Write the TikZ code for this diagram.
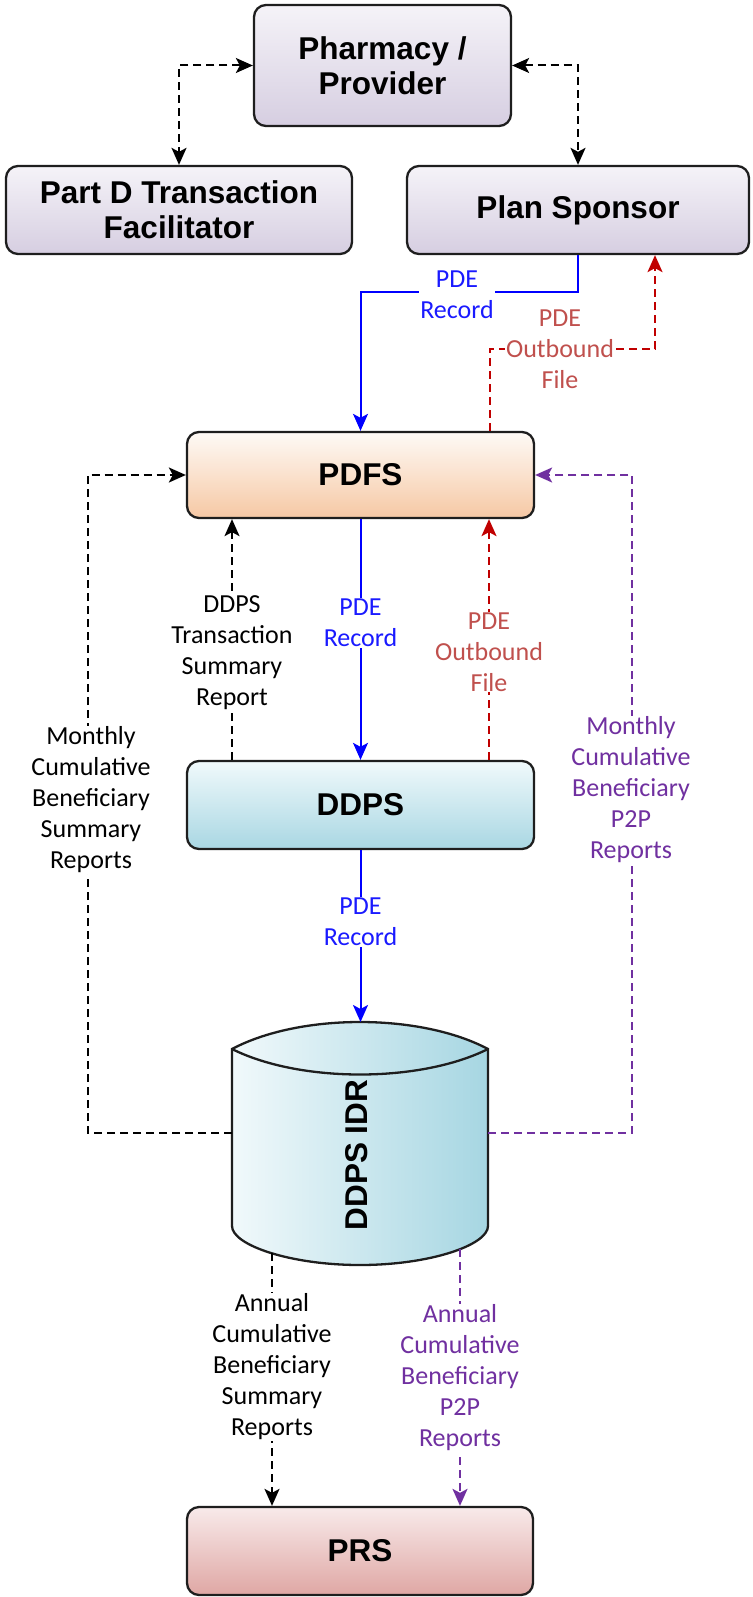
\documentclass[tikz,border=0pt]{standalone}
\usepackage{fontspec}
\setmainfont{Carlito}
\newfontfamily\boxfont{Liberation Sans}
\usetikzlibrary{arrows.meta,calc}

\definecolor{lavTop}{HTML}{F5F3F8}
\definecolor{lavBot}{HTML}{D6CEE1}
\definecolor{peachTop}{HTML}{FEFAF6}
\definecolor{peachBot}{HTML}{F6C8A4}
\definecolor{aquaTop}{HTML}{F0F9FB}
\definecolor{aquaBot}{HTML}{A9D7E3}
\definecolor{roseTop}{HTML}{F8EAEA}
\definecolor{roseBot}{HTML}{DFA7A4}
\definecolor{cylLeft}{HTML}{F1F9FB}
\definecolor{cylRight}{HTML}{A6D6E2}
\definecolor{flowBlue}{HTML}{0000FF}
\definecolor{txtBlue}{HTML}{1A1AFF}
\definecolor{flowRed}{HTML}{C00000}
\definecolor{txtRed}{HTML}{C0504D}
\definecolor{flowPurple}{HTML}{7030A0}
\definecolor{edgeGray}{HTML}{1E1E1E}

\tikzset{
  box/.style={rounded corners=12pt, draw=edgeGray, line width=2.3pt,
    align=center, inner sep=0pt,
    font=\boxfont\bfseries\fontsize{31.5}{35}\selectfont},
  lavbox/.style={box, top color=lavTop, bottom color=lavBot},
  tip/.style={-{Stealth[length=17pt,width=15pt,inset=4pt]}},
  twotip/.style={{Stealth[length=17pt,width=15pt,inset=4pt]}-{Stealth[length=17pt,width=15pt,inset=4pt]}},
  flow/.style={line width=2pt},
  dashflow/.style={flow, dash pattern=on 8pt off 5pt},
  blueflow/.style={flow, draw=flowBlue, tip},
  redflow/.style={dashflow, draw=flowRed, tip},
  blackflow/.style={dashflow, draw=black, tip},
  purpleflow/.style={dashflow, draw=flowPurple, tip},
  lbl/.style={fill=white, inner sep=1pt, align=center,
    font=\fontsize{26}{31}\selectfont},
}

\begin{document}
\begin{tikzpicture}[x=1pt,y=-1pt]
\useasboundingbox (0,0) rectangle (752,1597);

% process boxes
\node[lavbox, minimum width=257pt, minimum height=121pt] (pharm) at (382.5,65.5) {Pharmacy /\\Provider};
\node[lavbox, minimum width=346pt, minimum height=88pt] (partd) at (179,210) {Part D Transaction\\Facilitator};
\node[lavbox, minimum width=342pt, minimum height=88pt] (plan) at (578,210) {Plan Sponsor};
\node[box, top color=peachTop, bottom color=peachBot, minimum width=347pt, minimum height=86pt] (pdfs) at (360.5,475) {PDFS};
\node[box, top color=aquaTop, bottom color=aquaBot, minimum width=347pt, minimum height=88pt] (ddps) at (360.5,805) {DDPS};
\node[box, top color=roseTop, bottom color=roseBot, minimum width=346pt, minimum height=88pt] (prs) at (360,1551) {PRS};

% data store drum
\path[draw=edgeGray, line width=2.3pt, left color=cylLeft, right color=cylRight]
  (232,1049) .. controls (300,1013) and (420,1013) .. (488,1049)
  -- (488,1226) .. controls (488,1245) and (430,1265) .. (360,1265)
  .. controls (290,1265) and (232,1245) .. (232,1226) -- cycle;
\draw[edgeGray, line width=2.3pt] (232,1049) .. controls (300,1083) and (420,1083) .. (488,1049);
\node[rotate=90, font=\boxfont\bfseries\fontsize{31.5}{35}\selectfont] (idr) at (357,1155) {DDPS IDR};
\coordinate (cyltop) at (360.5,1022);
\coordinate (cylW) at (232,1133);
\coordinate (cylE) at (488,1133);
\coordinate (cylBL) at (272,1253);
\coordinate (cylBR) at (460,1249);

% pharmacy links
\draw[dashflow, twotip] (pharm.west) -| (partd.north);
\draw[dashflow, twotip] (pharm.east) -| (plan.north);

% sponsor <-> PDFS
\draw[blueflow] (plan.south) -- ++(0,37) -| (pdfs.north);
\draw[redflow] ([xshift=129.5pt]pdfs.north) -- ++(0,-82) -| ([xshift=77pt]plan.south);

% PDFS <-> DDPS
\draw[blueflow] (pdfs.south) -- (ddps.north);
\draw[redflow] ([xshift=128.5pt]ddps.north) -- ([xshift=128.5pt]pdfs.south);
\draw[blackflow] ([xshift=-128.5pt]ddps.north) -- ([xshift=-128.5pt]pdfs.south);

% DDPS -> IDR
\draw[blueflow] (ddps.south) -- (cyltop);

% monthly reports back to PDFS
\draw[blackflow] (cylW) -| ([xshift=-98pt]pdfs.west) -- (pdfs.west);
\draw[purpleflow] (cylE) -| ([xshift=97pt]pdfs.east) -- (pdfs.east);

% annual reports to PRS
\draw[blackflow] (cylBL) -- (cylBL |- prs.north);
\draw[purpleflow] (cylBR) -- (cylBR |- prs.north);

% connector labels
\node[lbl, text=txtBlue] (l1) at (457,295) {PDE\\Record};
\node[lbl, text=txtRed] (l2) at (560,349) {PDE\\Outbound\\File};
\node[lbl] (l3) at (232,653) {DDPS\\Transaction\\Summary\\Report};
\node[lbl, text=txtBlue] (l4) at (360.5,623) {PDE\\Record};
\node[lbl, text=txtRed] (l5) at (489,652) {PDE\\Outbound\\File};
\node[lbl] (l6) at (91,800) {Monthly\\Cumulative\\Beneficiary\\Summary\\Reports};
\node[lbl, text=flowPurple] (l7) at (631,790) {Monthly\\Cumulative\\Beneficiary\\P2P\\Reports};
\node[lbl, text=txtBlue] (l8) at (360.5,922) {PDE\\Record};
\node[lbl] (l9) at (272,1367) {Annual\\Cumulative\\Beneficiary\\Summary\\Reports};
\node[lbl, text=flowPurple] (l10) at (460,1378) {Annual\\Cumulative\\Beneficiary\\P2P\\Reports};
\end{tikzpicture}
\end{document}
